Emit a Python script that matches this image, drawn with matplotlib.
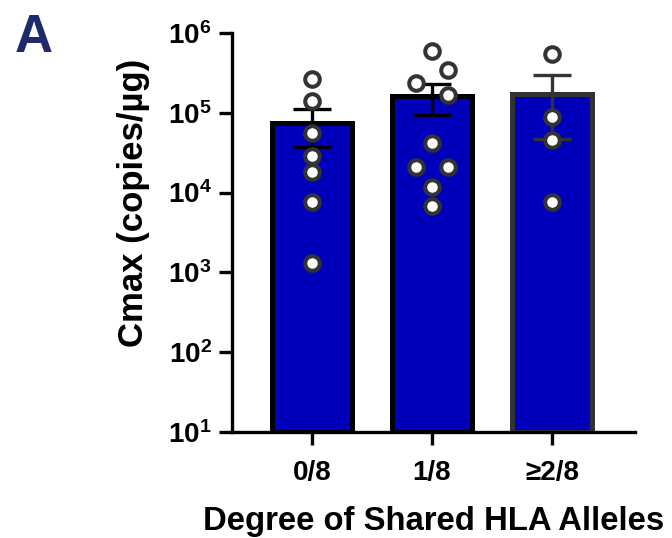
import numpy as np
import matplotlib
matplotlib.use("Agg")
import matplotlib.pyplot as plt
from matplotlib.ticker import FuncFormatter, LogLocator, NullLocator

plt.rcParams["font.family"] = ["Liberation Sans", "DejaVu Sans"]
plt.rcParams["font.weight"] = "bold"
plt.rcParams["mathtext.fontset"] = "custom"
plt.rcParams["mathtext.rm"] = "Liberation Sans:bold"
plt.rcParams["mathtext.bf"] = "Liberation Sans:bold"
plt.rcParams["mathtext.it"] = "Liberation Sans:bold"

# Groups and individual Cmax values (copies/µg)
categories = ["0/8", "1/8", "\u22652/8"]
group_0 = [266000, 141000, 56000, 29000, 18300, 7700, 1300]
group_1 = [600000, 340000, 237000, 168000, 42000, 21100, 21100, 11900, 6700]
group_2 = [550000, 89000, 46000, 7700]
groups = [group_0, group_1, group_2]

# Horizontal spread of points within each group
spread_0 = [0, 0, 0, 0, 0, 0, 0]
spread_1 = [0, 0.13, -0.13, 0.13, 0, -0.13, 0.13, 0, 0]
spread_2 = [0, 0, 0, 0]
spreads = [spread_0, spread_1, spread_2]

means = [np.mean(g) for g in groups]
sems = [np.std(g, ddof=1) / np.sqrt(len(g)) for g in groups]

bar_fill = "#0000BB"
edge_colors = ["#000000", "#000000", "#333333"]

fig = plt.figure(figsize=(6.72, 5.38), dpi=100)
ax = fig.add_axes([0.345, 0.197, 0.6, 0.7417])

x = np.arange(len(categories))
for i in range(len(categories)):
    ax.bar(x[i], means[i], width=0.667, bottom=10, color=bar_fill,
           edgecolor=edge_colors[i], linewidth=3.6, zorder=2)
    ax.errorbar(x[i], means[i], yerr=[[sems[i]], [sems[i]]], fmt="none",
                ecolor=edge_colors[i], elinewidth=2.4, capsize=14,
                capthick=2.4, zorder=3)
    ax.plot(x[i] + np.array(spreads[i]), groups[i], linestyle="none",
            marker="o", markersize=10.5, markerfacecolor="white",
            markeredgecolor="#333333", markeredgewidth=2.9, zorder=4)

ax.set_yscale("log")
ax.set_ylim(10, 1e6)
ax.set_xlim(-0.667, 2.69)
ax.yaxis.set_major_locator(LogLocator(base=10, numticks=10))
ax.yaxis.set_minor_locator(NullLocator())
ax.yaxis.set_major_formatter(
    FuncFormatter(lambda v, p: r"$\mathbf{10^{%d}}$" % round(np.log10(v))))

ax.set_xticks(x)
ax.set_xticklabels(categories)

for side in ["top", "right"]:
    ax.spines[side].set_visible(False)
for side in ["left", "bottom"]:
    ax.spines[side].set_linewidth(2.4)
    ax.spines[side].set_color("black")

ax.tick_params(axis="both", which="major", length=9.5, width=2.4,
               labelsize=20, color="black")
ax.tick_params(axis="x", pad=11)
ax.tick_params(axis="y", pad=5)
for lbl in ax.get_xticklabels() + ax.get_yticklabels():
    lbl.set_fontweight("bold")

ax.set_ylabel("Cmax (copies/\u00b5g)", fontsize=25, fontweight="bold")
ax.yaxis.set_label_coords(-0.202, 0.574)
ax.set_xlabel("Degree of Shared HLA Alleles", fontsize=23.7,
              fontweight="bold", labelpad=14)

fig.text(0.022, 0.975, "A", fontsize=38, fontweight="bold",
         color="#1F2A6B", ha="left", va="top")

fig.savefig("out.png", dpi=100, facecolor="white")
